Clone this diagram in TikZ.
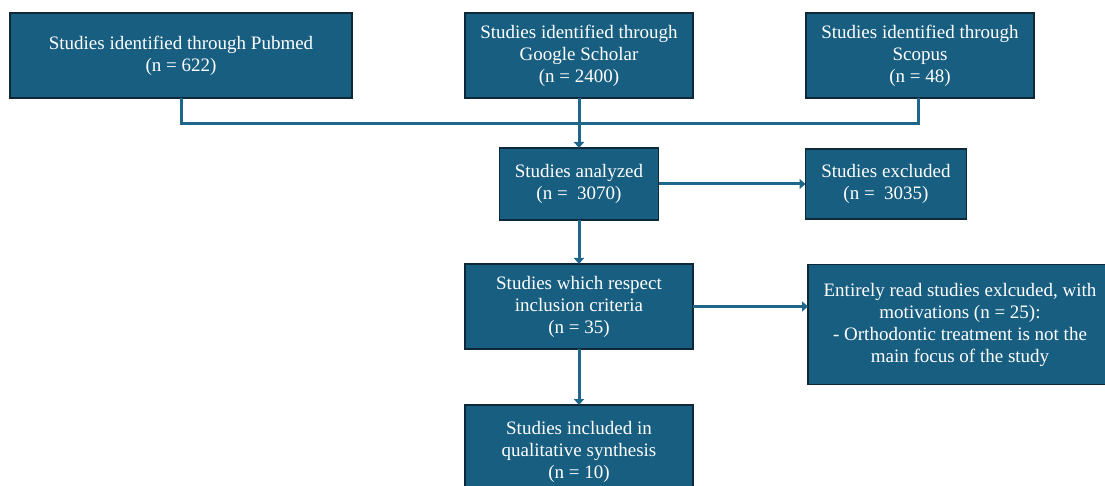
\documentclass[tikz,border=0pt]{standalone}
\usepackage{fontspec}
\setmainfont{Liberation Serif}
\usetikzlibrary{arrows.meta,positioning}
\definecolor{boxfill}{RGB}{24,94,128}
\definecolor{boxline}{RGB}{14,40,55}
\definecolor{linkcol}{RGB}{30,102,138}
\tikzset{%
   studybox/.style={
      rectangle,
      draw=boxline,
      line width=1.5pt,
      fill=boxfill,
      text=white,
      align=center,
      inner sep=0pt,
      outer sep=0pt,
      minimum width=228pt,
      minimum height=85pt,
      font=\fontsize{19}{22}\selectfont
   },
   link/.style={
      draw=linkcol,
      line width=3pt
   },
   linkarrow/.style={
      link,
      -{Triangle[width=10pt,length=6pt]}
   },
}

\begin{document}
\begin{tikzpicture}[x=1pt, y=1pt]
      \useasboundingbox (0,0) rectangle (1105,-486);
      \node[studybox, minimum width=342pt] (pubmed) at (181,-55.5)
         {Studies identified through Pubmed\\(n = 622)};
      \node[studybox, right=113pt of pubmed] (scholar)
         {Studies identified through\\Google Scholar\\(n = 2400)};
      \node[studybox, right=113pt of scholar] (scopus)
         {Studies identified through\\Scopus\\(n = 48)};
      \node[studybox, minimum width=159pt, minimum height=72pt, below=50pt of scholar] (analyzed)
         {Studies analyzed\\(n =\ \ 3070)};
      \node[studybox, minimum width=161pt, minimum height=70pt, right=147pt of analyzed] (excluded)
         {Studies excluded\\(n =\ \ 3035)};
      \node[studybox, below=44pt of analyzed] (criteria)
         {Studies which respect\\inclusion criteria\\(n = 35)};
      \node[studybox, minimum width=304pt, minimum height=120pt, right=115pt of criteria, yshift=-18pt] (readexcl)
         {Entirely read studies exlcuded, with\\motivations (n = 25):\\- Orthodontic treatment is not the\\main focus of the study};
      \node[studybox, minimum height=94pt, below=56pt of criteria] (included)
         {Studies included in\\qualitative synthesis\\(n = 10)};
      \coordinate (join) at ([yshift=-26pt]scholar.south);
      \draw[link] (pubmed.south) |- (join) -| ([xshift=-2pt]scopus.south);
      \draw[linkarrow] (scholar.south) -- (analyzed.north);
      \draw[linkarrow] (analyzed.east) -- (excluded.west);
      \draw[linkarrow] (analyzed.south) -- (criteria.north);
      \draw[linkarrow] (criteria.east) -- (criteria.east -| readexcl.west);
      \draw[linkarrow] (criteria.south) -- (included.north);
   \end{tikzpicture}
\end{document}
